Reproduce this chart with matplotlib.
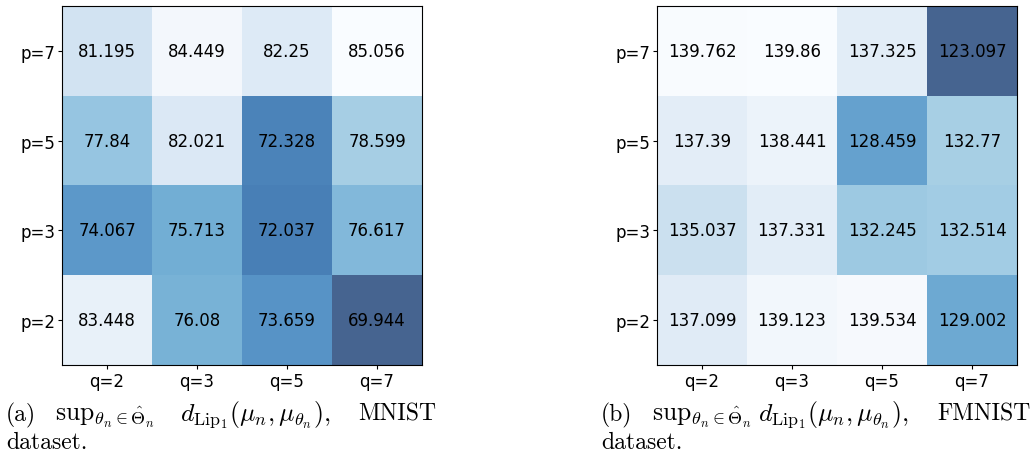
import matplotlib
matplotlib.use('Agg')
import matplotlib.pyplot as plt
import numpy as np

plt.rcParams['mathtext.fontset'] = 'cm'

p_labels = ['p=7', 'p=5', 'p=3', 'p=2']
q_labels = ['q=2', 'q=3', 'q=5', 'q=7']
mnist = [[81.195, 84.449, 82.25, 85.056],
         [77.84, 82.021, 72.328, 78.599],
         [74.067, 75.713, 72.037, 76.617],
         [83.448, 76.08, 73.659, 69.944]]
fmnist = [[139.762, 139.86, 137.325, 123.097],
          [137.39, 138.441, 128.459, 132.77],
          [135.037, 137.331, 132.245, 132.514],
          [137.099, 139.123, 139.534, 129.002]]

W, H = 1036, 456
fig = plt.figure(figsize=(W / 100, H / 100), dpi=100)

def px_axes(x0, y0, x1, y1):
    return fig.add_axes([x0 / W, 1 - y1 / H, (x1 - x0) / W, (y1 - y0) / H])

def heat(ax, data):
    arr = np.array(data)
    ax.imshow(arr, cmap='Blues_r', alpha=0.75, aspect='auto')
    for i in range(arr.shape[0]):
        for j in range(arr.shape[1]):
            ax.text(j, i, str(data[i][j]), ha='center', va='center',
                    fontsize=12, color='black')
    ax.set_xticks(range(len(q_labels)))
    ax.set_xticklabels(q_labels, fontsize=12)
    ax.set_yticks(range(len(p_labels)))
    ax.set_yticklabels(p_labels, fontsize=12)
    ax.tick_params(length=3, pad=2)

ax1 = px_axes(62, 7, 422, 366)
heat(ax1, mnist)
ax2 = px_axes(657, 7, 1017, 366)
heat(ax2, fmnist)

def ftxt(x, y, s, size=17, **kw):
    fig.text(x / W, 1 - y / H, s, fontsize=size, va='baseline', ha='left', **kw)

sup = r'$\mathrm{sup}_{\theta_n\in\hat{\Theta}_n}$'
dlip = r'$d_{\mathrm{Lip}_1}(\mu_n,\mu_{\theta_n}),$'

ftxt(6, 421, '(a)', family='cmr10')
ftxt(55, 421, sup, size=18.5)
ftxt(180, 421, dlip, size=18.5)
ftxt(358, 421, 'MNIST', family='cmr10')
ftxt(6, 449, 'dataset.', family='cmr10')

ftxt(601, 421, '(b)', family='cmr10')
ftxt(652, 421, sup, size=18.5)
ftxt(758, 421, dlip, size=18.5)
ftxt(937, 421, 'FMNIST', family='cmr10')
ftxt(601, 449, 'dataset.', family='cmr10')

fig.savefig('out.png', dpi=100)
